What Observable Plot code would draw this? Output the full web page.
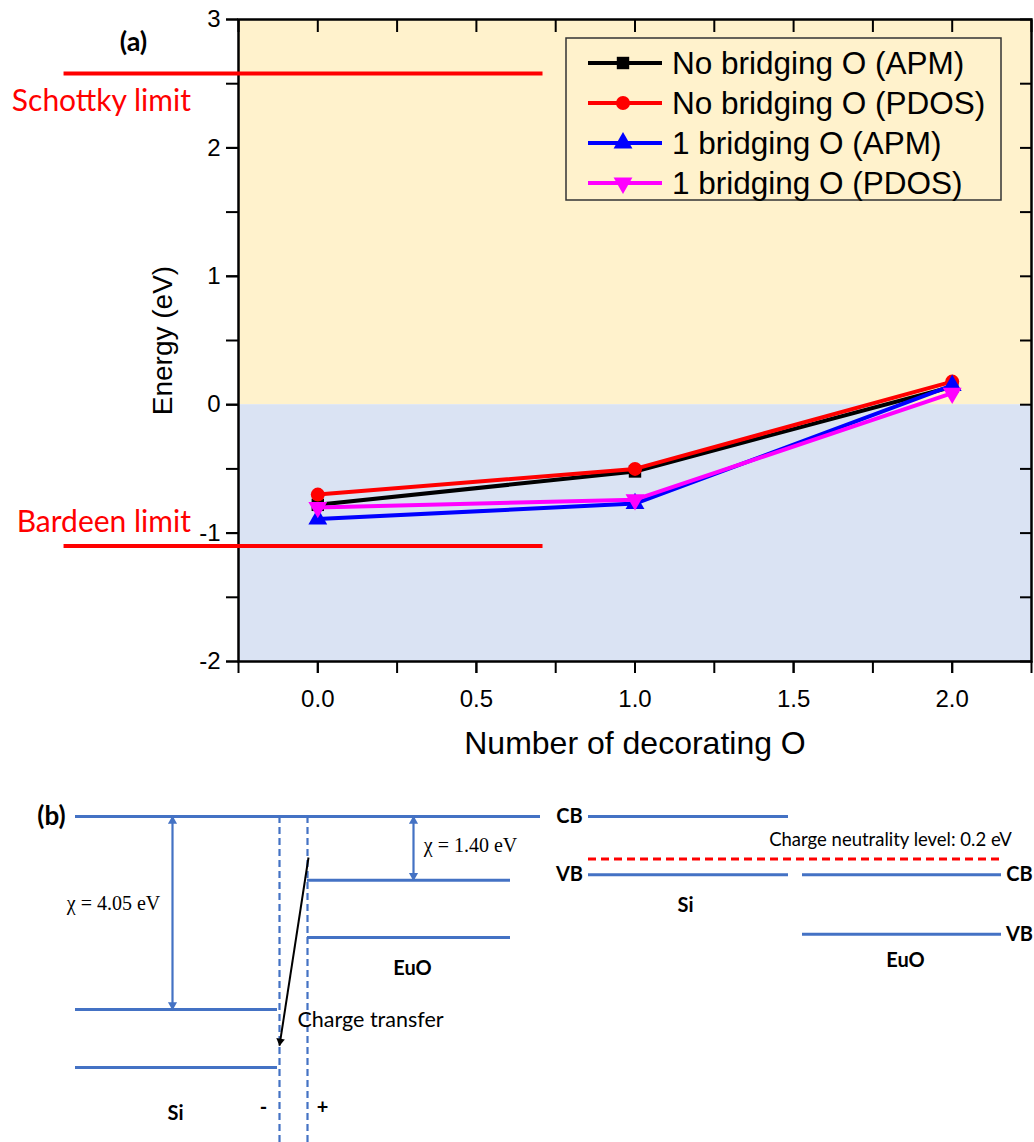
<!DOCTYPE html>
<html><head><meta charset="utf-8">
<script src="https://cdn.jsdelivr.net/npm/d3@7"></script>
<script src="https://cdn.jsdelivr.net/npm/@observablehq/plot@0.6"></script>
<style>
body{margin:0;background:#fff;}
#wrap{position:relative;width:1034px;height:1142px;overflow:hidden;background:#fff}
#a{position:absolute;left:0;top:0}
#b{position:absolute;left:0;top:770px}
#legend{position:absolute;left:0;top:0;pointer-events:none}
</style></head><body>
<div id="wrap"><div id="a"></div><div id="b"></div><svg id="legend" width="1034" height="770"></svg></div>
<script>
// ---------------- DATA: panel (a) ----------------
const decoratingO = [0, 1, 2];
const seriesNames = ["No bridging O (APM)", "No bridging O (PDOS)", "1 bridging O (APM)", "1 bridging O (PDOS)"];
const noBridgingAPM   = [-0.78, -0.52, 0.14];
const noBridgingPDOS  = [-0.70, -0.50, 0.18];
const oneBridgingAPM  = [-0.89, -0.77, 0.15];
const oneBridgingPDOS = [-0.80, -0.74, 0.09];
const limitNames    = ["Schottky limit", "Bardeen limit"];
const limitEnergies = [2.58, -1.10];
const limitSpan     = [-0.80, 0.71];     // in "number of decorating O" units
const limitLabelEnd = -0.40;
const xDomain = [-0.25, 2.25];
const yDomain = [-2, 3];
const xTickLabels = [0, 0.5, 1, 1.5, 2];
const xTicksAll = [-0.25, 0, 0.25, 0.5, 0.75, 1, 1.25, 1.5, 1.75, 2, 2.25];
const yTickLabels = [-2, -1, 0, 1, 2, 3];
const yTicksAll = [-2, -1.5, -1, -0.5, 0, 0.5, 1, 1.5, 2, 2.5, 3];
const bands = [{region: "above", lo: 0, hi: 3}, {region: "below", lo: -2, hi: 0}];

// ---------------- DATA: panel (b) schematic (x: position units, e: eV vs vacuum level) ----------------
const levelSegments = [
  {part: "vacuum level", x1: 75, x2: 540, e: 0},
  {part: "Si CB", x1: 75, x2: 277, e: -4.05},
  {part: "Si VB", x1: 75, x2: 277, e: -5.27},
  {part: "EuO CB", x1: 307, x2: 510, e: -1.34},
  {part: "EuO VB", x1: 307, x2: 510, e: -2.54},
  {part: "aligned Si CB", x1: 588, x2: 788, e: 0},
  {part: "aligned Si VB", x1: 588, x2: 788, e: -1.22},
  {part: "aligned EuO CB", x1: 802, x2: 1001, e: -1.22},
  {part: "aligned EuO VB", x1: 802, x2: 1001, e: -2.47}
];
const neutralityLevel = [{x1: 588, x2: 1001, e: -0.89}];
const interfaceLines = [{x: 279, top: 0}, {x: 307, top: 0}];
const chiArrows = [{x: 172, from: 0, to: -4.05}, {x: 413, from: 0, to: -1.34}];
const chargeTransfer = [{x1: 308, e1: -0.86, x2: 279, e2: -4.81}];
const boldLabels = [
  {t: "CB", x: 569, e: 0}, {t: "VB", x: 569, e: -1.22},
  {t: "CB", x: 1019, e: -1.22}, {t: "VB", x: 1019, e: -2.47},
  {t: "Si", x: 685, e: -1.87}, {t: "EuO", x: 905, e: -3.02},
  {t: "EuO", x: 412, e: -3.19}, {t: "Si", x: 175, e: -6.23},
  {t: "-", x: 263, e: -6.11}, {t: "+", x: 322, e: -6.11}
];
const chiLabels = [{t: "χ = 4.05 eV", x: 113, e: -1.83}, {t: "χ = 1.40 eV", x: 470, e: -0.61}];
const noteLabels = [{t: "Charge neutrality level: 0.2 eV", x: 890, e: -0.50, size: 18.5}, {t: "Charge transfer", x: 370, e: -4.28, size: 21.5}];
const panelLabelB = [{t: "(b)", x: 51, e: 0}];
const bXDomain = [0, 1034];
const bEDomain = [-6.8416, 0.9654];

// ---------------- STYLES ----------------
const seriesStyle = [
  {color: "#000000", symbol: "square", rotate: 0},
  {color: "#ff0000", symbol: "circle", rotate: 0},
  {color: "#0000ff", symbol: "triangle", rotate: 0},
  {color: "#ff00ff", symbol: "triangle", rotate: 180}
];
const BLUE = "#4472C4";
const SANS = "'Liberation Sans', Arial, sans-serif";
const CAL = "Lato, 'Open Sans', sans-serif";

// ---------------- PANEL (a) ----------------
const values = [noBridgingAPM, noBridgingPDOS, oneBridgingAPM, oneBridgingPDOS];
const limits = limitNames.map((name, i) => ({name, energy: limitEnergies[i]}));
const seriesMarks = seriesNames.flatMap((name, i) => {
  const rows = decoratingO.map((x, j) => ({series: name, x, energy: values[i][j]}));
  const s = seriesStyle[i];
  return [
    Plot.line(rows, {x: "x", y: "energy", stroke: s.color, strokeWidth: 4}),
    Plot.dot(rows, {x: "x", y: "energy", fill: s.color, stroke: "none", symbol: s.symbol, r: 7, rotate: s.rotate})
  ];
});

const plotA = Plot.plot({
  width: 1034, height: 770,
  marginLeft: 238, marginRight: 3, marginTop: 19, marginBottom: 109,
  style: {fontFamily: SANS, background: "transparent", overflow: "visible", color: "#000"},
  x: {domain: xDomain},
  y: {domain: yDomain},
  marks: [
    Plot.rect(bands.filter(d => d.region === "above"), {x1: () => xDomain[0], x2: () => xDomain[1], y1: "lo", y2: "hi", fill: "#FFF2CC"}),
    Plot.rect(bands.filter(d => d.region === "below"), {x1: () => xDomain[0], x2: () => xDomain[1], y1: "lo", y2: "hi", fill: "#DAE3F3"}),
    Plot.axisY({ticks: yTickLabels, tickSize: 12, tickPadding: 6, tickFormat: d => String(d), fontSize: 24, label: null, strokeWidth: 2}),
    Plot.axisY({ticks: yTicksAll, tickSize: 12, tickFormat: () => "", label: null, strokeWidth: 2}),
    Plot.axisY({anchor: "right", ticks: yTicksAll, tickSize: 12, dx: -12, tickFormat: () => "", label: null, strokeWidth: 2}),
    Plot.axisX({ticks: xTickLabels, tickSize: 12, tickPadding: 16, tickFormat: d3.format(".1f"), fontSize: 24, label: null, strokeWidth: 2}),
    Plot.axisX({ticks: xTicksAll, tickSize: 12, tickFormat: () => "", label: null, strokeWidth: 2}),
    Plot.axisX({anchor: "top", ticks: xTicksAll, tickSize: 12, dy: 12, tickFormat: () => "", label: null, strokeWidth: 2}),
    Plot.frame({stroke: "#000", strokeWidth: 2.5}),
    ...seriesMarks,
    Plot.ruleY(limits, {y: "energy", x1: () => limitSpan[0], x2: () => limitSpan[1], stroke: "#ff0000", strokeWidth: 4}),
    Plot.text(limits.filter(d => d.name.startsWith("Schottky")), {x: () => limitLabelEnd, y: "energy", text: "name", textAnchor: "end", dy: 28, fill: "#ff0000", fontSize: 30, fontFamily: CAL}),
    Plot.text(limits.filter(d => d.name.startsWith("Bardeen")), {x: () => limitLabelEnd, y: "energy", text: "name", textAnchor: "end", dy: -24, fill: "#ff0000", fontSize: 30, fontFamily: CAL}),
    Plot.text(["Energy (eV)"], {text: d => d, frameAnchor: "left", textAnchor: "middle", lineAnchor: "middle", dx: -75, rotate: -90, fontSize: 28}),
    Plot.text(["Number of decorating O"], {text: d => d, frameAnchor: "bottom", textAnchor: "middle", lineAnchor: "middle", dy: 82, fontSize: 32}),
    Plot.text(["(a)"], {text: d => d, frameAnchor: "top-left", textAnchor: "middle", lineAnchor: "middle", dx: -105, dy: 23, fontSize: 27, fontWeight: "bold", fontFamily: CAL})
  ]
});
document.getElementById("a").appendChild(plotA);

// legend (inside the frame, top right)
const lg = d3.select("#legend");
lg.append("rect").attr("x", 566).attr("y", 38).attr("width", 435).attr("height", 162)
  .attr("fill", "none").attr("stroke", "#333").attr("stroke-width", 1.5);
seriesNames.forEach((name, i) => {
  const y = 63 + 40 * i, s = seriesStyle[i];
  lg.append("line").attr("x1", 588).attr("x2", 662).attr("y1", y).attr("y2", y).attr("stroke", s.color).attr("stroke-width", 4);
  const sym = {square: d3.symbolSquare, circle: d3.symbolCircle, triangle: d3.symbolTriangle}[s.symbol];
  lg.append("path").attr("d", d3.symbol(sym, Math.PI * 7 * 7)())
    .attr("transform", `translate(623,${y}) rotate(${s.rotate})`).attr("fill", s.color);
  lg.append("text").attr("x", 672).attr("y", y).attr("dy", "0.35em").attr("font-family", SANS)
    .attr("font-size", 31.5).attr("fill", "#000").text(name);
});

// ---------------- PANEL (b) ----------------
const tri = 4.6; // centroid-to-tip distance of arrowhead triangles
const plotB = Plot.plot({
  width: 1034, height: 372,
  marginLeft: 0, marginRight: 0, marginTop: 0, marginBottom: 0,
  style: {background: "transparent", overflow: "visible", color: "#000"},
  x: {domain: bXDomain, axis: null},
  y: {domain: bEDomain, axis: null},
  marks: [
    Plot.ruleX(interfaceLines, {x: "x", y1: "top", y2: () => bEDomain[0], stroke: BLUE, strokeWidth: 2.2, strokeDasharray: "7,4"}),
    Plot.ruleY(levelSegments, {y: "e", x1: "x1", x2: "x2", stroke: BLUE, strokeWidth: 3}),
    Plot.ruleY(neutralityLevel, {y: "e", x1: "x1", x2: "x2", stroke: "#ff0000", strokeWidth: 3, strokeDasharray: "8,5"}),
    Plot.ruleX(chiArrows, {x: "x", y1: "from", y2: "to", stroke: BLUE, strokeWidth: 2.2}),
    Plot.dot(chiArrows, {x: "x", y: "from", symbol: "triangle", r: 3.4, fill: BLUE, stroke: "none", dy: tri}),
    Plot.dot(chiArrows, {x: "x", y: "to", symbol: "triangle", r: 3.4, fill: BLUE, stroke: "none", rotate: 180, dy: -tri}),
    Plot.link(chargeTransfer, {x1: "x1", y1: "e1", x2: "x2", y2: "e2", stroke: "#000", strokeWidth: 2}),
    Plot.dot(chargeTransfer, {x: "x2", y: "e2", symbol: "triangle", r: 3.2, fill: "#000", stroke: "none", rotate: 188.8, dx: 0.7, dy: -4.5}),
    Plot.text(boldLabels, {x: "x", y: "e", text: "t", fontFamily: CAL, fontWeight: "bold", fontSize: 20}),
    Plot.text(panelLabelB, {x: "x", y: "e", text: "t", fontFamily: CAL, fontWeight: "bold", fontSize: 26}),
    Plot.text(chiLabels, {x: "x", y: "e", text: "t", fontFamily: "'Liberation Serif', 'DejaVu Serif', serif", fontSize: 20}),
    Plot.text(noteLabels.filter(d => d.size < 20), {x: "x", y: "e", text: "t", fontFamily: CAL, fontSize: 18.5}),
    Plot.text(noteLabels.filter(d => d.size >= 20), {x: "x", y: "e", text: "t", fontFamily: CAL, fontSize: 21.5})
  ]
});
document.getElementById("b").appendChild(plotB);
</script>
</body></html>
